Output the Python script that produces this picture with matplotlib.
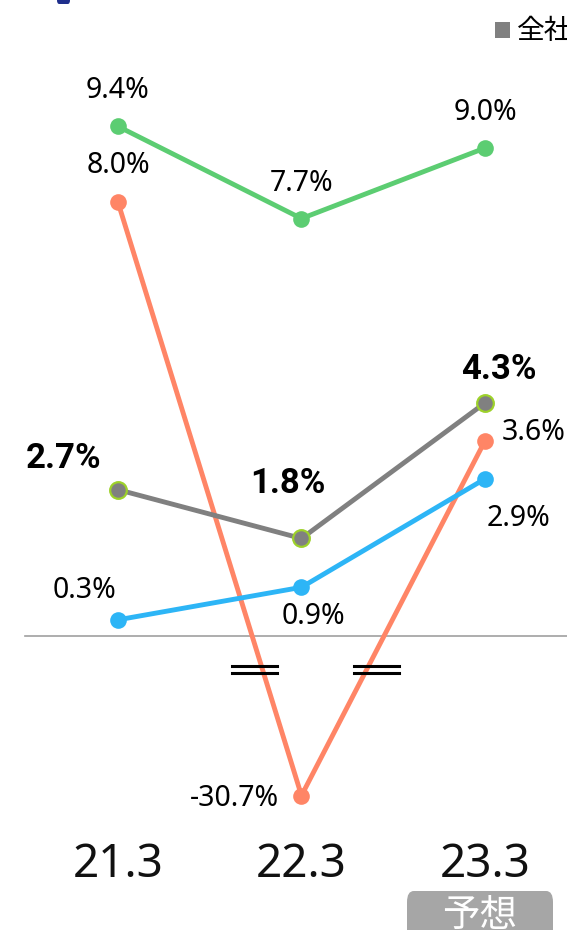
import numpy as np
import matplotlib
matplotlib.use('Agg')
import matplotlib.pyplot as plt
from matplotlib.patches import FancyBboxPatch, Rectangle
from matplotlib.lines import Line2D

# data
years = ['21.3', '22.3', '23.3']
green = [9.4, 7.7, 9.0]
orange = [8.0, -30.7, 3.6]
gray = [2.7, 1.8, 4.3]
blue = [0.3, 0.9, 2.9]
legend_label = '全社'
forecast_label = '予想'

# the part below zero is squeezed (broken axis)
squeeze = 0.0958


def fwd(v):
    v = np.asarray(v, dtype=float)
    return np.where(v < 0, v * squeeze, v)


def inv(v):
    v = np.asarray(v, dtype=float)
    return np.where(v < 0, v / squeeze, v)


W, H = 567, 930
fig = plt.figure(figsize=(W / 100, H / 100), dpi=100)
ax = fig.add_axes([0, 0, 1, 1])
ax.set_yscale('function', functions=(fwd, inv))
ax.set_xlim(-0.643, 2.447)
ax.set_ylim(-5.42 / squeeze, 11.73)
ax.axis('off')


def fx(px):
    return px / W


def fy(py):
    return 1 - py / H


# zero line
ax.axhline(0, xmin=25 / W, xmax=1, color='#a0a0a0', lw=1.2, zorder=1)

x = np.arange(len(years))
num_font = ['Noto Sans', 'DejaVu Sans']
bold_font = ['Roboto', 'DejaVu Sans']
jp_font = ['Noto Sans CJK JP', 'DejaVu Sans']

# (values, color, marker edge, label offsets in pixels, bold)
series = [
    (orange, '#ff8566', '#ff8566', [(0, 29), (-67, -10), (49, 1)], False),
    (green, '#5ccd72', '#5ccd72', [(0, 28), (0, 28), (0, 28)], False),
    (blue, '#2db5f6', '#2db5f6', [(-33, 22), (12, -37), (34, -47)], False),
    (gray, '#808080', '#9dd12a', [(-54, 22), (-14, 45), (14, 24)], True),
]

for z, (vals, col, edge, offs, bold) in enumerate(series):
    ax.plot(x, vals, color=col, lw=3.5, marker='o', ms=12,
            mfc=col, mec=edge, mew=1.6 if bold else 0, zorder=3 + z,
            solid_capstyle='round')
    for xi, v, (dx, dy) in zip(x, vals, offs):
        ax.annotate(f'{v:.1f}%', (xi, v), xytext=(dx, dy),
                    textcoords='offset pixels', ha='center', va='baseline',
                    fontsize=25 if bold else 20.5,
                    fontweight='bold' if bold else 'normal',
                    family=bold_font if bold else num_font,
                    color='black', zorder=10)

# x labels
for xi, lab in zip(x, years):
    ax.text(xi, fy(877), lab, transform=ax.get_xaxis_transform(),
            ha='center', va='baseline', fontsize=33, family=num_font,
            color='#111111')

# axis break marks
for x0, x1 in [(232, 277), (354, 399)]:
    for py in (666, 673):
        fig.add_artist(Line2D([fx(x0), fx(x1)], [fy(py), fy(py)],
                              transform=fig.transFigure, color='black',
                              lw=2.2, zorder=20))

# forecast tag
fig.add_artist(FancyBboxPatch((fx(407), fy(945)), fx(553) - fx(407),
                              fy(891) - fy(945),
                              boxstyle='round,pad=0,rounding_size=0.012',
                              transform=fig.transFigure, fc='#a6a6a6',
                              ec='none', zorder=5))
fig.text(fx(480), fy(915), forecast_label, ha='center', va='center',
         fontsize=27, color='white', family=jp_font, zorder=6)

# legend (cut off at the right, as in the source)
fig.add_artist(Rectangle((fx(495), fy(38)), fx(15), 16 / H,
                         transform=fig.transFigure, fc='#808080', ec='none'))
fig.text(fx(517), fy(31), legend_label, ha='left', va='center',
         fontsize=20, color='black', family=jp_font)

# navy marker at the top left edge
fig.add_artist(FancyBboxPatch((fx(57), fy(4)), fx(13), 8 / H,
                              boxstyle='round,pad=0,rounding_size=0.004',
                              transform=fig.transFigure, fc='#1f2f8c',
                              ec='none'))

fig.savefig('out.png', dpi=100)
